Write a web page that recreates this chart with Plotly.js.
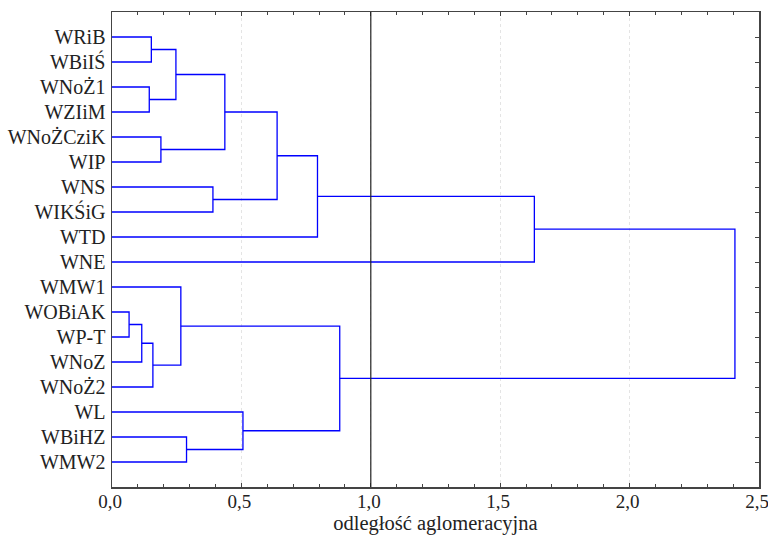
<!DOCTYPE html>
<html>
<head>
<meta charset="utf-8">
<script src="https://cdn.plot.ly/plotly-3.0.1.min.js"></script>
<style>html,body{margin:0;padding:0;background:#fff;}#chart{width:768px;height:538px;}</style>
</head>
<body>
<div id="chart"></div>
<script>
// Leaves (top to bottom)
const leaves = ["WRiB","WBiIŚ","WNoŻ1","WZIiM","WNoŻCziK","WIP","WNS","WIKŚiG","WTD","WNE",
                "WMW1","WOBiAK","WP-T","WNoZ","WNoŻ2","WL","WBiHZ","WMW2"];
// Linkage: node n = leaves.length + i merges mergeLeft[i] and mergeRight[i] at mergeHeight[i]
const mergeLeft   = [11, 18, 2, 0, 19, 4, 21, 10, 16, 6, 24, 15, 28, 30, 25, 31, 33];
const mergeRight  = [12, 13, 3, 1, 14, 5, 20, 22, 17, 7, 23, 26, 27, 8, 29, 9, 32];
const mergeHeight = [0.066, 0.115, 0.144, 0.152, 0.158, 0.189, 0.247, 0.266, 0.288, 0.390,
                     0.436, 0.506, 0.638, 0.794, 0.880, 1.632, 2.407];
const cutLevel = 1.0;
const xTickVals = [0, 0.5, 1.0, 1.5, 2.0, 2.5];

const nodeX = [], nodeY = [];
leaves.forEach((l, i) => { nodeX.push(0); nodeY.push(i + 1); });
const xs = [], ys = [];
mergeHeight.forEach((h, i) => {
  const a = mergeLeft[i], b = mergeRight[i];
  xs.push(nodeX[a], h, h, nodeX[b], null);
  ys.push(nodeY[a], nodeY[a], nodeY[b], nodeY[b], null);
  nodeX.push(h);
  nodeY.push((nodeY[a] + nodeY[b]) / 2);
});
const leafPos = leaves.map((l, i) => i + 1);

const fam = '"Liberation Serif", "Times New Roman", serif';
const tickFont = {family: fam, size: 20, color: '#222'};
const xTickFont = {family: fam, size: 19, color: '#222'};
const titleFont = {family: fam, size: 20.5, color: '#222'};

const traces = [
  {x: xs, y: ys, type: 'scatter', mode: 'lines', line: {color: 'rgb(0,0,255)', width: 1.3},
   hoverinfo: 'skip', showlegend: false},
  {x: [0], y: [1], type: 'scatter', mode: 'markers', yaxis: 'y2', marker: {opacity: 0},
   hoverinfo: 'skip', showlegend: false}
];

const layout = {
  width: 768, height: 538,
  margin: {l: 112, r: 9, t: 12, b: 51, pad: 0},
  paper_bgcolor: '#fff', plot_bgcolor: '#fff',
  separators: ', ',
  font: tickFont,
  showlegend: false,
  xaxis: {
    range: [0, 2.5], tickvals: xTickVals, tickformat: '.1f',
    ticks: 'inside', ticklen: 4, tickcolor: '#444', tickwidth: 1,
    minor: {dtick: 0.1, ticks: 'inside', ticklen: 3, tickcolor: '#444', showgrid: false},
    showgrid: true, gridcolor: '#e4e4e4', griddash: 'dot', gridwidth: 1,
    zeroline: false, showline: true, linecolor: '#444', linewidth: 1.5, mirror: 'ticks',
    tickfont: xTickFont, ticklabeloverflow: 'allow', ticklabelstandoff: -3, ticklabelshift: -2,
    title: {text: 'odległość aglomeracyjna', font: titleFont, standoff: 3},
    fixedrange: true
  },
  yaxis: {
    range: [19, 0], tickvals: leafPos, ticktext: leaves,
    ticks: '', showgrid: false, zeroline: false,
    showline: true, linecolor: '#444', linewidth: 1.5, mirror: true,
    tickfont: tickFont, ticklabelstandoff: 1, fixedrange: true
  },
  yaxis2: {
    overlaying: 'y', side: 'right', matches: 'y', range: [19, 0],
    tickvals: leafPos, showticklabels: false,
    ticks: 'inside', ticklen: 4, tickcolor: '#444',
    showgrid: false, zeroline: false, showline: false, fixedrange: true
  },
  shapes: [
    {type: 'line', xref: 'x', yref: 'paper', x0: cutLevel, x1: cutLevel, y0: 0, y1: 1,
     line: {color: '#222', width: 1.2}}
  ]
};

Plotly.newPlot('chart', traces, layout, {staticPlot: true, displayModeBar: false});
</script>
</body>
</html>
